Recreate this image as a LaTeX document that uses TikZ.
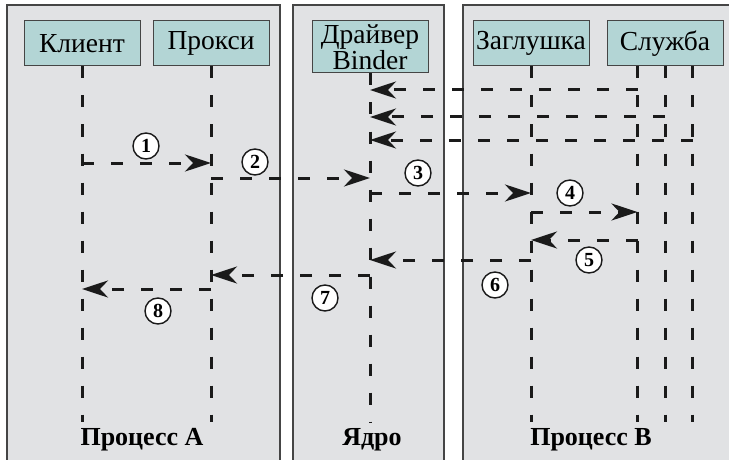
\documentclass[tikz,border=0pt]{standalone}
\usepackage{fontspec}
\setmainfont{Liberation Serif}
\usepackage{tikz}
\usetikzlibrary{arrows.meta, positioning}
\definecolor{PanelGray}{HTML}{E1E2E4}
\definecolor{PanelEdge}{HTML}{454545}
\definecolor{BoxTeal}{HTML}{B3D5D5}
\definecolor{LineDark}{HTML}{1A1A1A}

\begin{document}
\begin{tikzpicture}[
      x=1pt, y=-1pt,
      panel/.style={draw=PanelEdge, fill=PanelGray, line width=1.5pt},
      box/.style={draw=PanelEdge, fill=BoxTeal, line width=1pt, inner sep=0pt,
                  minimum width=116pt, minimum height=45pt, align=center,
                  font=\fontsize{27.5}{21}\selectfont},
      life/.style={draw=LineDark, line width=3pt, dash pattern=on 12pt off 17pt},
      msg/.style={life, -{Stealth[length=26pt, width=17pt, inset=8pt]}},
      num/.style={circle, draw=LineDark, fill=white, line width=1.4pt, inner sep=0pt,
                  minimum size=26pt, font=\fontsize{20}{20}\selectfont\bfseries},
      title/.style={anchor=base, font=\fontsize{26}{26}\selectfont\bfseries}
  ]
      \useasboundingbox (0,0) rectangle (729,460);
      \clip (0,0) rectangle (729,460);

      % Panels
      \draw[panel] (7,5) rectangle (280,475);
      \draw[panel] (293,5) rectangle (444,475);
      \draw[panel] (463,5) rectangle (745,475);

      % Participants
      \node[box] (cli) at (82,43.5) {Клиент};
      \node[box, right=12pt of cli] (prx) {Прокси};
      \node[box, minimum height=52pt] (drv) at (370,47) {Драйвер\\Binder};
      \node[box] (stb) at (531,43.5) {Заглушка};
      \node[box, right=17pt of stb] (srv) {Служба};

      % Lifelines
      \coordinate (bot) at (0,422);
      \coordinate (s1) at ([xshift=-27.5pt]srv.south);
      \coordinate (s2) at (srv.south);
      \coordinate (s3) at ([xshift=27.5pt]srv.south);
      \draw[life] (cli.south) -- (cli.south |- bot);
      \draw[life] (prx.south) -- (prx.south |- bot);
      \draw[life] (drv.south) -- (drv.south |- bot);
      \draw[life] (stb.south) -- (stb.south |- bot);
      \draw[life] (s1) -- (s1 |- bot);
      \draw[life] (s2) -- (s2 |- bot);
      \draw[life] (s3) -- (s3 |- bot);

      % Replies from the service threads
      \draw[msg] (s1 |- 0,90) -- (drv.south |- 0,90);
      \draw[msg] (s2 |- 0,117) -- (drv.south |- 0,117);
      \draw[msg] (s3 |- 0,140) -- (drv.south |- 0,140);

      % Call sequence
      \draw[msg] (cli.south |- 0,163) -- (prx.south |- 0,163);
      \draw[msg] (prx.south |- 0,178) -- (drv.south |- 0,178);
      \draw[msg] (drv.south |- 0,193) -- (stb.south |- 0,193);
      \draw[msg] (stb.south |- 0,212) -- (s1 |- 0,212);
      \draw[msg] (s1 |- 0,240) -- (stb.south |- 0,240);
      \draw[msg] (stb.south |- 0,260) -- (drv.south |- 0,260);
      \draw[msg] (drv.south |- 0,275) -- (prx.south |- 0,275);
      \draw[msg] (prx.south |- 0,289) -- (cli.south |- 0,289);

      % Step numbers
      \node[num] (n1) at (146,146) {1};
      \node[num] (n2) at (255,162) {2};
      \node[num] (n3) at (418,173) {3};
      \node[num] (n4) at (570,193) {4};
      \node[num] (n5) at (589,260) {5};
      \node[num] (n6) at (495,285) {6};
      \node[num] (n7) at (325,298) {7};
      \node[num] (n8) at (158,311) {8};

      % Panel titles
      \node[title] (tA) at (142,445) {Процесс А};
      \node[title] (tK) at (372,445) {Ядро};
      \node[title] (tB) at (591,445) {Процесс В};
  \end{tikzpicture}
\end{document}
